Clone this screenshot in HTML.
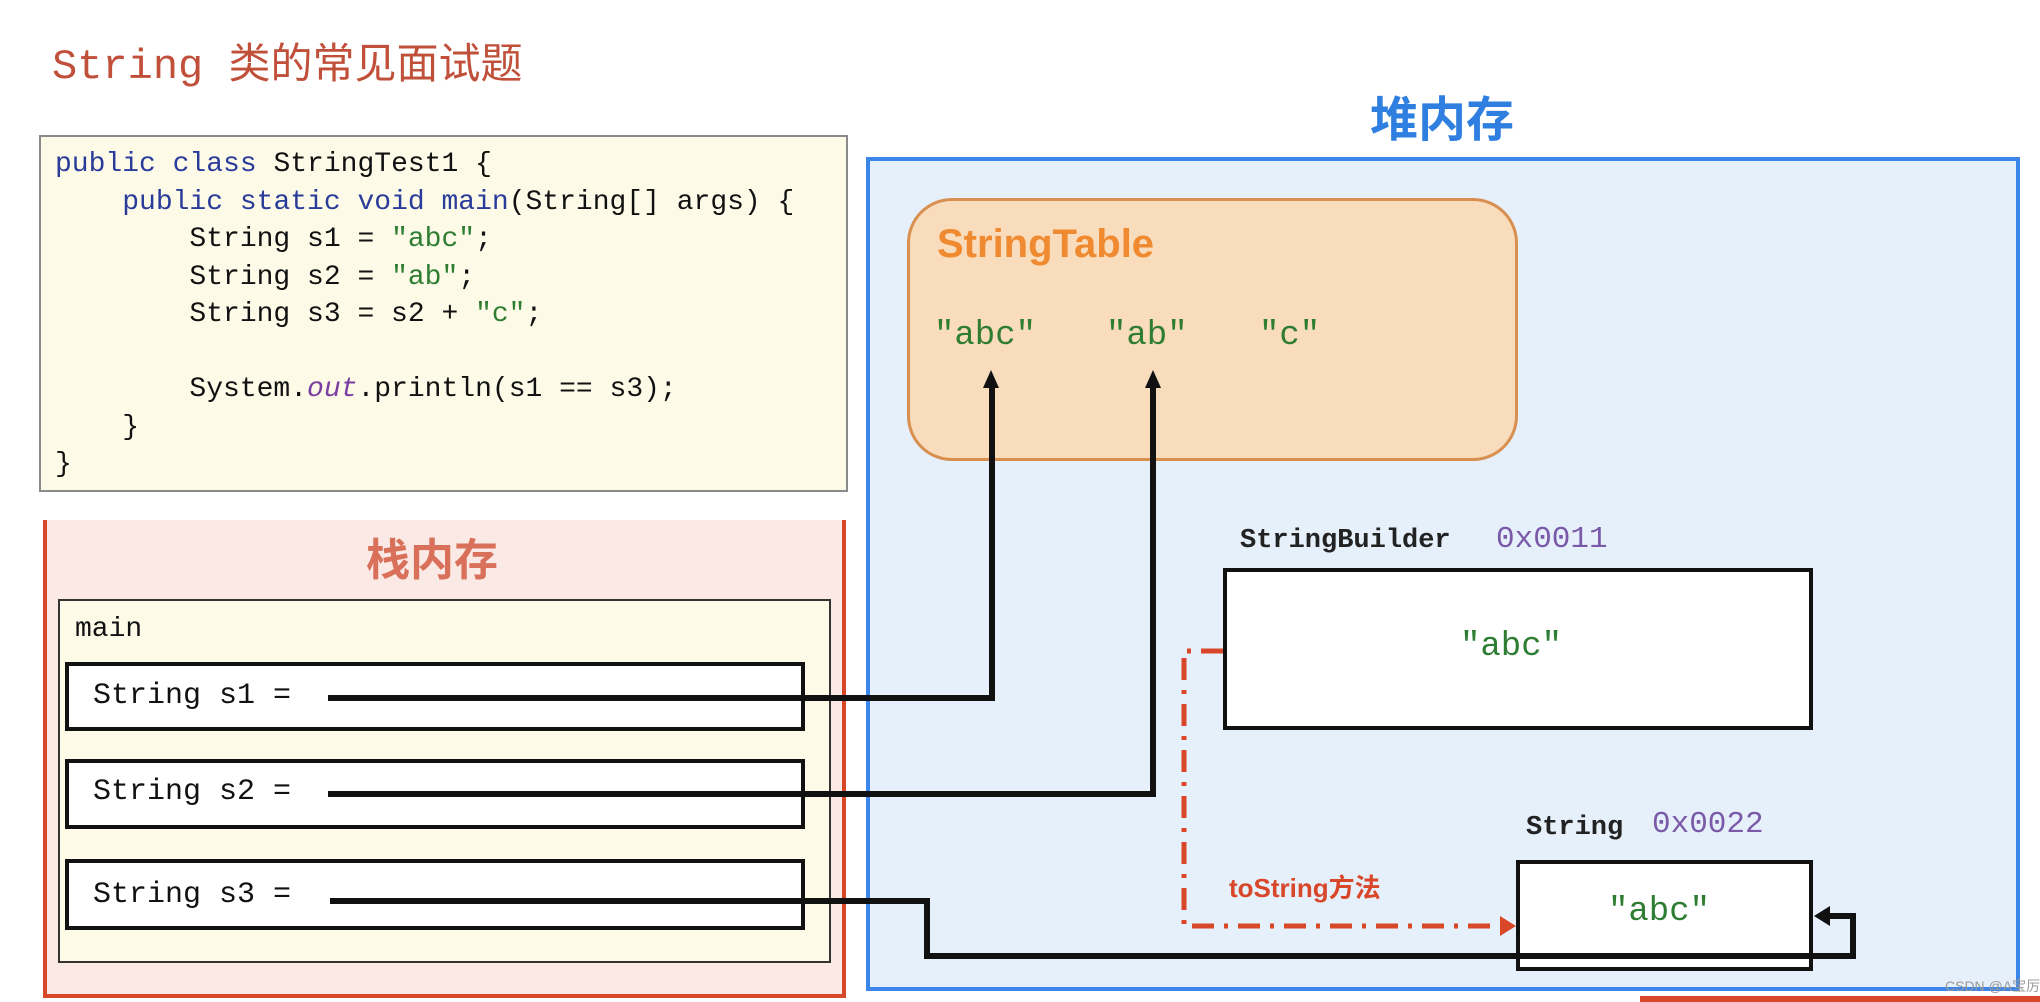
<!DOCTYPE html>
<html><head><meta charset="utf-8"><style>
*{margin:0;padding:0;box-sizing:border-box}
body{width:2040px;height:1002px;background:#fff;position:relative;overflow:hidden;font-family:"Liberation Sans","Noto Sans CJK SC",sans-serif}
.a{position:absolute;white-space:pre}
.mono{font-family:"Liberation Mono","Noto Sans CJK SC",monospace}
.kw{color:#2a3c9a}.str{color:#2e7d32}
</style></head><body>
<div class="a mono" style="left:52px;top:36px;font-size:42px;color:#c0503a;line-height:50px">String <span style="font-family:'Noto Sans CJK SC',sans-serif">类的常见面试题</span></div>

<div class="a" style="left:39px;top:135px;width:809px;height:357px;background:#fdfbe8;border:2px solid #8a8a8a"></div>
<div class="a mono" style="left:55px;top:146px;font-size:28px;line-height:37.5px;color:#111"><span class="kw">public class</span> StringTest1 {
    <span class="kw">public static void main</span>(String[] args) {
        String s1 = <span class="str">"abc"</span>;
        String s2 = <span class="str">"ab"</span>;
        String s3 = s2 + <span class="str">"c"</span>;

        System.<i style="color:#7a3fa0">out</i>.println(s1 == s3);
    }
}</div>

<div class="a" style="left:43px;top:520px;width:803px;height:478px;background:#fbe9e6;border:4px solid #d9472b;border-top:none"></div>
<div class="a" style="left:366px;top:524px;font-size:44px;font-weight:bold;color:#d9705a;font-family:'Noto Sans CJK SC',sans-serif">栈内存</div>
<div class="a" style="left:58px;top:599px;width:773px;height:364px;background:#fdfbe8;border:2px solid #333"></div>
<div class="a mono" style="left:75px;top:614px;font-size:28px;color:#111">main</div>
<div class="a" style="left:65px;top:662px;width:740px;height:69px;background:#fff;border:4px solid #111"></div>
<div class="a" style="left:65px;top:759px;width:740px;height:70px;background:#fff;border:4px solid #111"></div>
<div class="a" style="left:65px;top:859px;width:740px;height:71px;background:#fff;border:4px solid #111"></div>
<div class="a mono" style="left:93px;top:679px;font-size:30px;color:#111">String s1 =</div>
<div class="a mono" style="left:93px;top:775px;font-size:30px;color:#111">String s2 =</div>
<div class="a mono" style="left:93px;top:878px;font-size:30px;color:#111">String s3 =</div>

<div class="a" style="left:866px;top:157px;width:1154px;height:834px;background:#e6f0fb;border:4px solid #3b86e8"></div>
<div class="a" style="left:1370px;top:80px;font-size:48px;font-weight:bold;color:#2f7fe0;font-family:'Noto Sans CJK SC',sans-serif">堆内存</div>
<div class="a" style="left:907px;top:198px;width:611px;height:263px;background:#f8dcbb;border:3px solid #d89050;border-radius:45px"></div>
<div class="a" style="left:937px;top:222px;font-size:40px;font-weight:bold;color:#f08a30">StringTable</div>
<div class="a mono str" style="left:934px;top:317px;font-size:34px">"abc"</div>
<div class="a mono str" style="left:1106px;top:317px;font-size:34px">"ab"</div>
<div class="a mono str" style="left:1259px;top:317px;font-size:34px">"c"</div>

<div class="a mono" style="left:1240px;top:526px;font-size:27px;font-weight:bold;color:#222">StringBuilder</div>
<div class="a mono" style="left:1496px;top:522px;font-size:31px;color:#7a5aa8">0x0011</div>
<div class="a" style="left:1223px;top:568px;width:590px;height:162px;background:#fff;border:4px solid #111"></div>
<div class="a mono str" style="left:1460px;top:628px;font-size:34px">"abc"</div>

<div class="a mono" style="left:1526px;top:813px;font-size:27px;font-weight:bold;color:#222">String</div>
<div class="a mono" style="left:1652px;top:807px;font-size:31px;color:#7a5aa8">0x0022</div>
<div class="a" style="left:1516px;top:860px;width:297px;height:111px;background:#fff;border:4px solid #111"></div>
<div class="a mono str" style="left:1608px;top:893px;font-size:34px">"abc"</div>
<div class="a" style="left:1229px;top:868px;font-size:26px;font-weight:bold;color:#d9472b;font-family:'Liberation Sans','Noto Sans CJK SC',sans-serif">toString方法</div>

<svg class="a" style="left:0;top:0" width="2040" height="1002">
<g stroke="#111" stroke-width="6" fill="none">
<polyline points="328,698 992,698 992,385"/>
<polyline points="328,794 1153,794 1153,385"/>
<polyline points="330,901 927,901 927,956 1853,956 1853,916 1828,916"/>
</g>
<polygon points="991,370 983,388 999,388" fill="#111"/>
<polygon points="1153,370 1145,388 1161,388" fill="#111"/>
<polygon points="1814,916 1830,906 1830,926" fill="#111"/>
<g stroke="#d9472b" stroke-width="5" fill="none" stroke-dasharray="22,10,4,10">
<polyline points="1223,651 1184,651 1184,926 1500,926"/>
</g>
<polygon points="1516,926 1500,916 1500,936" fill="#d9472b"/>
<rect x="1640" y="996" width="400" height="6" fill="#d9472b"/>
</svg>
<div class="a" style="left:1945px;top:976px;font-size:14px;color:#999">CSDN @A宝厉</div>
</body></html>
